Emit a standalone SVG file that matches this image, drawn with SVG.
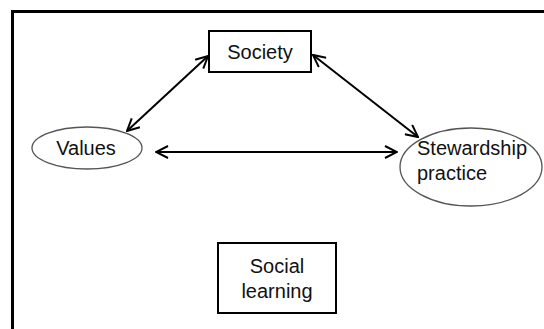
<svg xmlns="http://www.w3.org/2000/svg" width="544" height="329" viewBox="0 0 544 329">
<style>
.box{fill:#fff;stroke:#000;stroke-width:2}
.ell{fill:#fff;stroke:#555;stroke-width:1.3}
.t{font-family:"Liberation Sans",Arial,sans-serif;font-size:20px;fill:#111}
.c{fill:none;stroke:#000;stroke-width:2}
</style>
<defs>
<marker id="ah" viewBox="0 0 14 14" refX="13" refY="7" markerWidth="14" markerHeight="14" markerUnits="userSpaceOnUse" orient="auto-start-reverse">
<path d="M1,1 L13,7 L1,13" fill="none" stroke="#000" stroke-width="2"/>
</marker>
</defs>
<rect x="12.5" y="11.5" width="560" height="340" fill="#fff" stroke="#000" stroke-width="3"/>
<g id="connectors">
<line class="c" x1="127" y1="131" x2="208" y2="56" marker-start="url(#ah)" marker-end="url(#ah)"/>
<line class="c" x1="313" y1="55" x2="418" y2="137" marker-start="url(#ah)" marker-end="url(#ah)"/>
<line class="c" x1="156" y1="152" x2="397" y2="152" marker-start="url(#ah)" marker-end="url(#ah)"/>
</g>
<g id="society">
<rect class="box" x="209" y="31" width="102" height="41"/>
<text class="t" x="260" y="59" text-anchor="middle">Society</text>
</g>
<g id="values">
<ellipse class="ell" cx="87" cy="148" rx="55" ry="21"/>
<text class="t" x="86" y="155" text-anchor="middle">Values</text>
</g>
<g id="stewardship">
<ellipse class="ell" cx="471" cy="167" rx="71" ry="39"/>
<text class="t" x="417" y="155">Stewardship</text>
<text class="t" x="417" y="180">practice</text>
</g>
<g id="social-learning">
<rect class="box" x="218" y="243" width="118" height="70"/>
<text class="t" x="277" y="273" text-anchor="middle">Social</text>
<text class="t" x="277" y="298" text-anchor="middle">learning</text>
</g>
</svg>
